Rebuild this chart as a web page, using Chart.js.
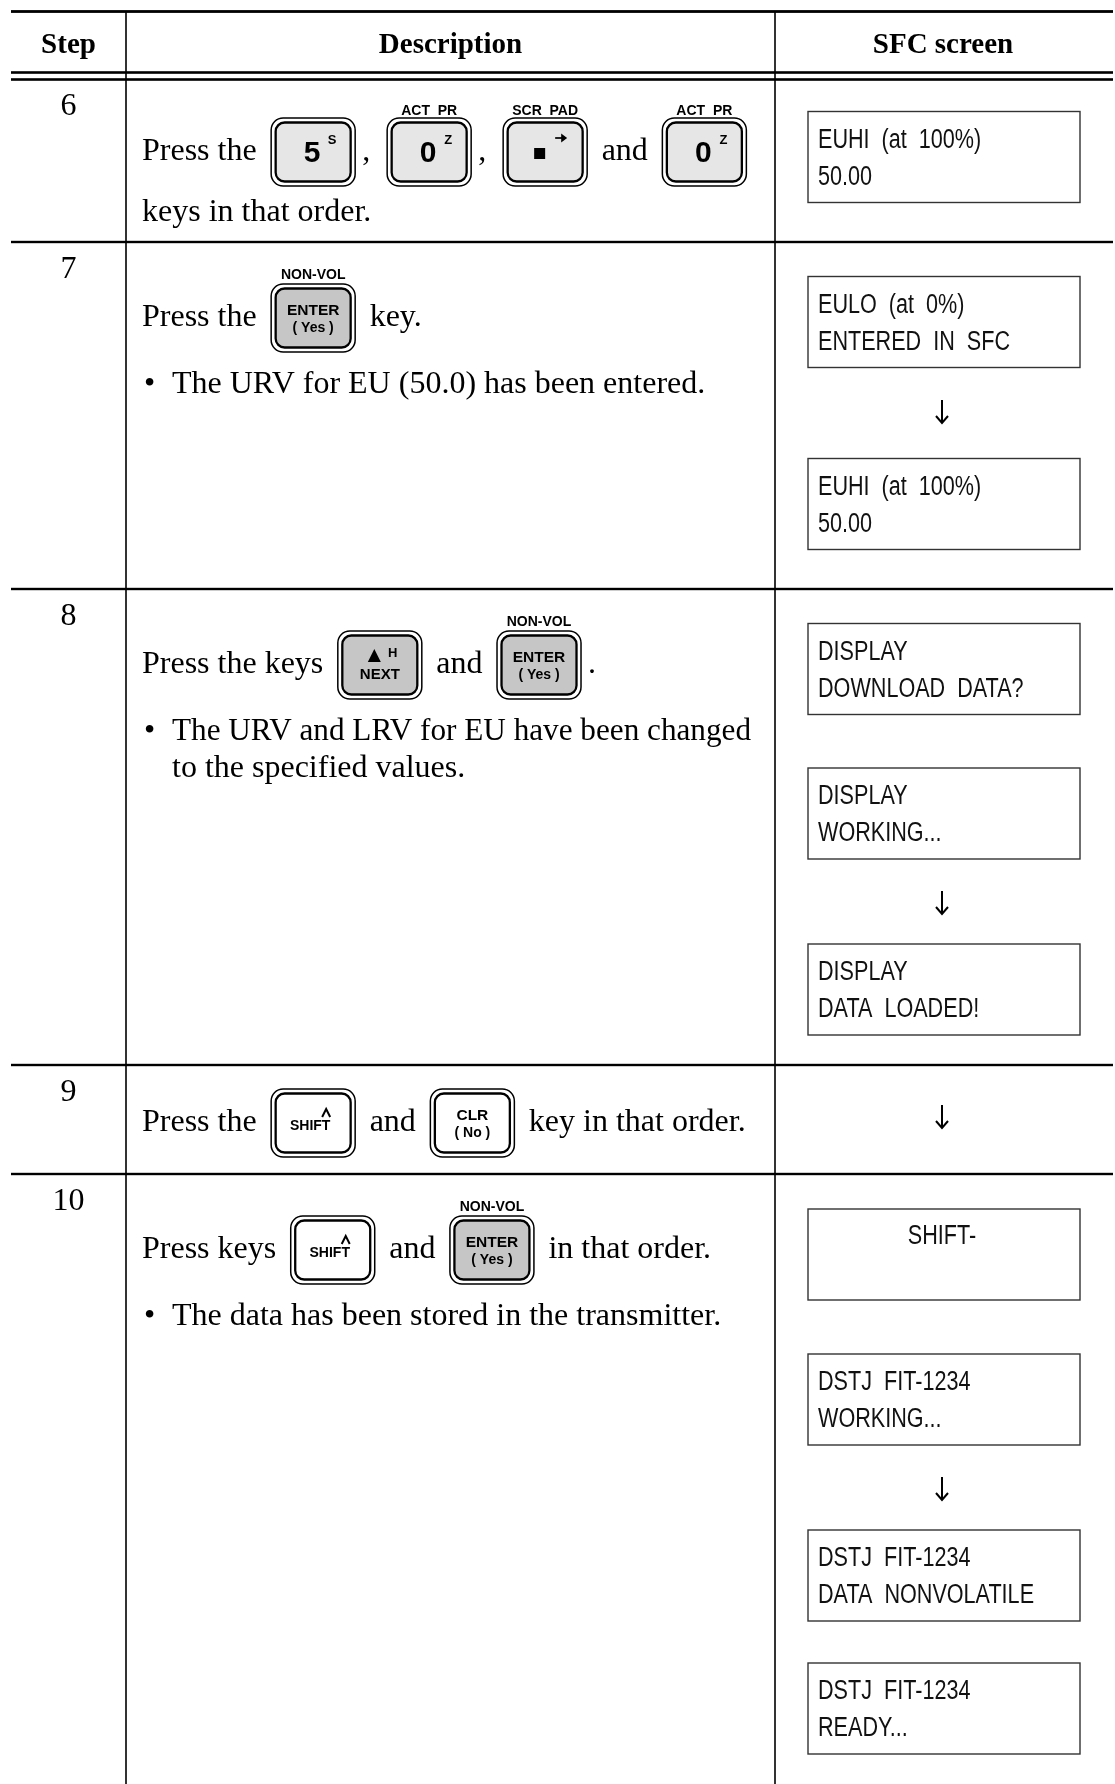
<!DOCTYPE html>
<html><head><meta charset="utf-8">
<script src="https://cdn.jsdelivr.net/npm/chart.js@4.4.1/dist/chart.umd.min.js"></script>
<style>html,body{margin:0;padding:0;background:#fff;}canvas{display:block;}</style>
</head><body>
<canvas id="c" width="1115" height="1784"></canvas>
<script>
// ---------- content ----------
const headers = ['Step', 'Description', 'SFC screen'];
const steps = ['6', '7', '8', '9', '10'];
const keyRows = [
  ['Press the', {key:'5'}, ',', {key:'0'}, ',', {key:'scr'}, 'and', {key:'0'}],
  ['Press the', {key:'enter'}, 'key.'],
  ['Press the keys', {key:'next'}, 'and', {key:'enter'}, '.'],
  ['Press the', {key:'shift'}, 'and', {key:'clr'}, 'key in that order.'],
  ['Press keys', {key:'shift'}, 'and', {key:'enter'}, 'in that order.']
];
const extraLines = [
  [{text:'keys in that order.'}],
  [{bullet:true, text:'The URV for EU (50.0) has been entered.'}],
  [{bullet:true, text:'The URV and LRV for EU have been changed'}, {indent:true, text:'to the specified values.'}],
  [],
  [{bullet:true, text:'The data has been stored in the transmitter.'}]
];
const screens = [
  [['EUHI  (at  100%)', '50.00']],
  [['EULO  (at  0%)', 'ENTERED  IN  SFC'], '↓', ['EUHI  (at  100%)', '50.00']],
  [['DISPLAY', 'DOWNLOAD  DATA?'], ['DISPLAY', 'WORKING...'], '↓', ['DISPLAY', 'DATA  LOADED!']],
  ['↓'],
  [['SHIFT-'], ['DSTJ  FIT-1234', 'WORKING...'], '↓', ['DSTJ  FIT-1234', 'DATA  NONVOLATILE'], ['DSTJ  FIT-1234', 'READY...']]
];
const keyCaps = {'0':'ACT  PR', 'scr':'SCR  PAD', 'enter':'NON-VOL'};
const keyMain = {'5':'5', '0':'0', 'enter':'ENTER', 'next':'NEXT', 'shift':'SHIFT', 'clr':'CLR'};
const keySub = {'5':'S', '0':'Z', 'enter':'( Yes )', 'clr':'( No )', 'next':'H'};

// ---------- layout ----------
const W = 1115, H = 1784;
const L = {
  left: 11, right: 1113, topLine: 11.5, dbl: [72.5, 79.5],
  rowLines: [242, 589, 1065, 1174], rowTops: [79, 242, 589, 1065, 1174],
  cols: [126, 775], colCenters: [68.5, 450.5, 943],
  headerY: 45.5, stepOff: 28,
  textX: 142, line1Off: [72.5, 75.5, 75.5, 57.5, 75.5],
  extraOff: [[134], [143], [143, 180], [], [143]],
  bulletX: 147, bulletTextX: 172, cellRightPad: 24,
  keyW: 84, keyH: 68, gap: 14.5, commaGap: [7, 17],
  screenX: 808, screenW: 272, screenH: 91, screenTextX: 818,
  screenPos: [[111.5], [276.5, 412, 458.5], [623.5, 768, 903, 944], [1117], [1209, 1354, 1489, 1530, 1663]]
};
const SERIF = '"Liberation Serif", "Times New Roman", serif';
const SANS = '"Liberation Sans", Arial, sans-serif';
const keyFill = {'5':'#e6e6e6','0':'#e6e6e6','scr':'#e6e6e6','enter':'#c6c6c6','next':'#c6c6c6','shift':'#ffffff','clr':'#ffffff'};

const tablePlugin = {
  id: 'tablePlugin',
  afterDraw(chart) {
    const ctx = chart.ctx, xs = chart.scales.x, ys = chart.scales.y;
    const X = v => xs.getPixelForValue(v), Y = v => ys.getPixelForValue(v);
    ctx.save();
    ctx.fillStyle = '#000'; ctx.strokeStyle = '#000';
    const hline = (y, th) => ctx.fillRect(X(L.left), Y(y) - th / 2, X(L.right) - X(L.left), th);
    hline(L.topLine, 2.8);
    L.dbl.forEach(y => hline(y, 2.6));
    L.rowLines.forEach(y => hline(y, 2.4));
    L.cols.forEach(x => ctx.fillRect(X(x) - 0.8, Y(L.topLine), 1.6, Y(H) - Y(L.topLine)));

    ctx.textBaseline = 'middle';
    ctx.textAlign = 'center';
    ctx.font = 'bold 29px ' + SERIF;
    headers.forEach((h, i) => ctx.fillText(h, X(L.colCenters[i]), Y(L.headerY)));
    ctx.font = '32px ' + SERIF;
    steps.forEach((s, i) => ctx.fillText(s, X(L.colCenters[0]), Y(L.rowTops[i] + L.stepOff)));

    function sansText(str, x, y, size, bold, align, sx) {
      ctx.save();
      ctx.font = (bold ? 'bold ' : '') + size + 'px ' + SANS;
      ctx.textAlign = align || 'center';
      ctx.translate(x, y);
      ctx.scale(sx || 1, 1);
      ctx.fillText(str, 0, 0);
      ctx.restore();
    }

    function drawKey(k, x, cy) {
      const w = L.keyW, h = L.keyH, y = cy - h / 2, cx = x + w / 2;
      ctx.save();
      ctx.beginPath(); ctx.roundRect(x, y, w, h, 12);
      ctx.fillStyle = '#fff'; ctx.fill();
      ctx.lineWidth = 1.5; ctx.strokeStyle = '#000'; ctx.stroke();
      ctx.beginPath(); ctx.roundRect(x + 4.5, y + 4.5, w - 9, h - 9, 9);
      ctx.fillStyle = keyFill[k]; ctx.fill();
      ctx.lineWidth = 2.3; ctx.stroke();
      ctx.fillStyle = '#000';
      ctx.textBaseline = 'middle';
      if (keyCaps[k]) sansText(keyCaps[k], cx, y - (k === 'enter' ? 9 : 7), 14, true, 'center', 1);
      if (k === '5' || k === '0') {
        sansText(keyMain[k], cx - 1, cy + 2, 30, true);
        sansText(keySub[k], cx + 19, cy - 12, 13, true);
      } else if (k === 'scr') {
        ctx.fillRect(cx - 11, cy - 4, 11, 11);
        ctx.lineWidth = 1.7;
        ctx.beginPath(); ctx.moveTo(cx + 10, cy - 14); ctx.lineTo(cx + 19, cy - 14); ctx.stroke();
        ctx.beginPath(); ctx.moveTo(cx + 22, cy - 14); ctx.lineTo(cx + 16, cy - 18.5); ctx.lineTo(cx + 16, cy - 9.5); ctx.closePath(); ctx.fill();
      } else if (k === 'enter' || k === 'clr') {
        sansText(keyMain[k], cx, cy - 7, 15.5, true, 'center', 1);
        sansText(keySub[k], cx, cy + 10, 14, true, 'center', 1);
      } else if (k === 'next') {
        ctx.beginPath(); ctx.moveTo(cx - 12, cy - 3); ctx.lineTo(cx - 5.5, cy - 16); ctx.lineTo(cx + 1, cy - 3); ctx.closePath(); ctx.fill();
        sansText(keySub[k], cx + 13, cy - 12, 13, true);
        sansText(keyMain[k], cx, cy + 10, 15, true, 'center', 1);
      } else if (k === 'shift') {
        sansText(keyMain[k], cx - 3, cy + 3, 14, true, 'center', 1);
        ctx.lineWidth = 2;
        ctx.beginPath(); ctx.moveTo(cx + 9, cy - 6); ctx.lineTo(cx + 13, cy - 14); ctx.lineTo(cx + 17, cy - 6); ctx.stroke();
      }
      ctx.restore();
    }

    // description column
    const maxW = L.cols[1] - L.cellRightPad - L.bulletTextX;
    keyRows.forEach((items, r) => {
      const ty = L.rowTops[r] + L.line1Off[r];
      const ky = ty + 0.5;
      let x = L.textX;
      items.forEach((it, i) => {
        if (typeof it === 'string') {
          const isPunct = it === ',' || it === '.';
          if (i > 0) x += isPunct ? L.commaGap[0] : L.gap;
          ctx.font = '32px ' + SERIF; ctx.textAlign = 'left'; ctx.textBaseline = 'middle'; ctx.fillStyle = '#000';
          ctx.fillText(it, X(x), Y(ty));
          x += ctx.measureText(it).width;
        } else {
          if (i > 0) x += (items[i - 1] === ',') ? L.commaGap[1] : L.gap;
          drawKey(it.key, X(x), Y(ky));
          x += L.keyW;
        }
      });
      extraLines[r].forEach((ln, j) => {
        const y = L.rowTops[r] + L.extraOff[r][j];
        ctx.font = '32px ' + SERIF; ctx.textAlign = 'left'; ctx.textBaseline = 'middle'; ctx.fillStyle = '#000';
        if (ln.bullet) {
          ctx.fillText('•', X(L.bulletX - 3), Y(y));
          ctx.fillText(ln.text, X(L.bulletTextX), Y(y), maxW);
        } else if (ln.indent) {
          ctx.fillText(ln.text, X(L.bulletTextX), Y(y), maxW);
        } else {
          ctx.fillText(ln.text, X(L.textX), Y(y), maxW);
        }
      });
    });

    // SFC screen column
    screens.forEach((list, r) => {
      list.forEach((s, j) => {
        const top = L.screenPos[r][j];
        if (typeof s === 'string') {
          const cx = X(L.colCenters[2] - 1), cy = Y(top);
          ctx.lineWidth = 2; ctx.strokeStyle = '#000';
          ctx.beginPath(); ctx.moveTo(cx, cy - 12); ctx.lineTo(cx, cy + 11); ctx.stroke();
          ctx.beginPath(); ctx.moveTo(cx - 6, cy + 4); ctx.lineTo(cx, cy + 11); ctx.lineTo(cx + 6, cy + 4); ctx.stroke();
        } else {
          ctx.lineWidth = 1.4; ctx.strokeStyle = '#333';
          ctx.strokeRect(X(L.screenX), Y(top), L.screenW, L.screenH);
          ctx.fillStyle = '#111';
          if (s.length === 1) {
            sansText(s[0], X(L.colCenters[2] - 1), Y(top + 28), 27, false, 'center', 0.8);
          } else {
            sansText(s[0], X(L.screenTextX), Y(top + 29), 27, false, 'left', 0.8);
            sansText(s[1], X(L.screenTextX), Y(top + 66), 27, false, 'left', 0.8);
          }
        }
      });
    });
    ctx.restore();
  }
};

new Chart(document.getElementById('c'), {
  type: 'scatter',
  data: { datasets: [] },
  options: {
    responsive: false, animation: false,
    layout: { padding: 0 },
    plugins: { legend: { display: false }, tooltip: { enabled: false } },
    scales: {
      x: { type: 'linear', min: 0, max: W, display: false },
      y: { type: 'linear', min: 0, max: H, reverse: true, display: false }
    }
  },
  plugins: [tablePlugin]
});
</script>
</body></html>
